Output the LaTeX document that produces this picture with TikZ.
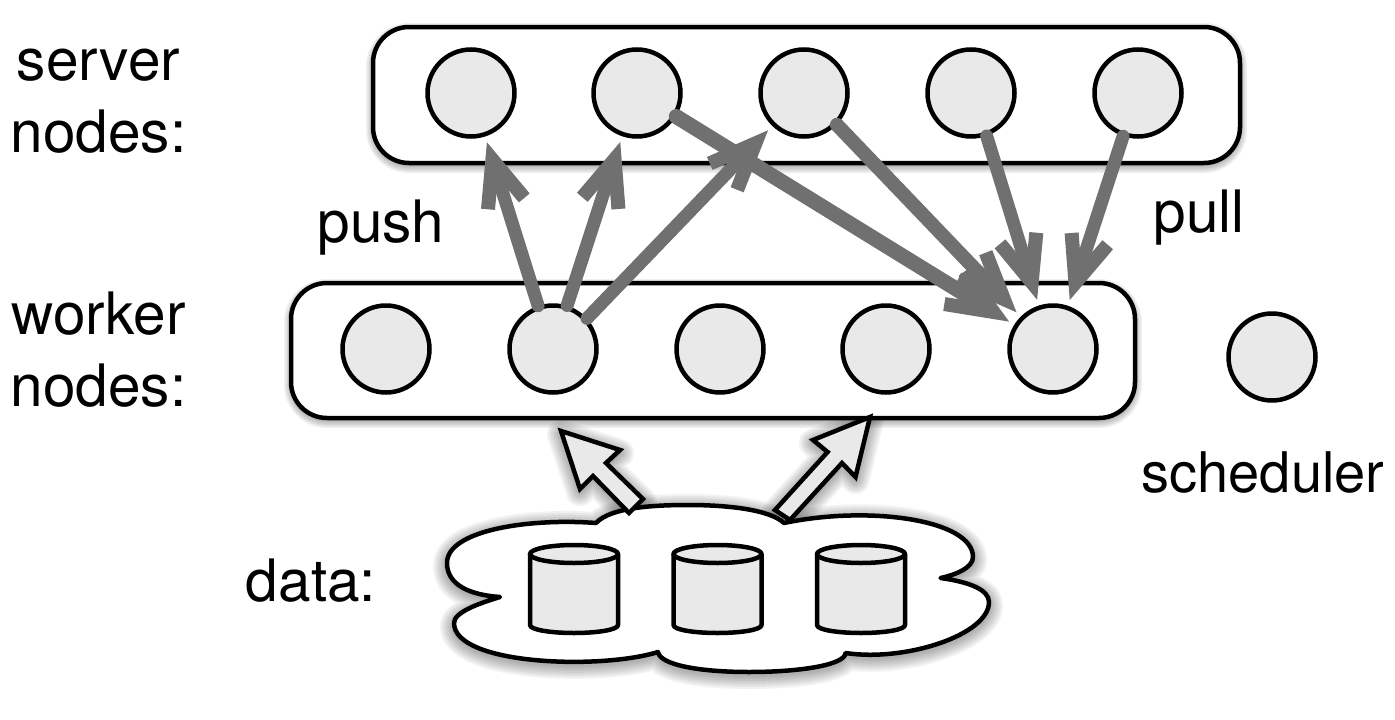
\documentclass[tikz,border=0pt]{standalone}
\usepackage{fontspec}
\setmainfont{TeX Gyre Heros}
\usetikzlibrary{arrows.meta}
\definecolor{NodeFill}{RGB}{233,233,233}
\definecolor{LinkGray}{RGB}{112,112,112}
\tikzset{
    groupbox/.style={draw=black, fill=white, line width=4.5pt, rounded corners=36pt},
    proc/.style={circle, draw=black, fill=NodeFill, line width=4.5pt, minimum size=87pt, inner sep=0pt},
    storeline/.style={draw=black, fill=NodeFill, line width=4.5pt, line join=round},
    link/.style={draw=LinkGray, line width=13pt, line cap=round, shorten >=6pt, -{Straight Barb[length=46pt, width=38pt, line width=14pt, line cap=butt]}},
    feed/.style={draw=black, fill=NodeFill, line width=4.5pt, line join=miter},
    lbl/.style={font=\fontsize{58.5}{72}\selectfont, align=center, inner sep=0pt}
}
% stacked strokes for the soft shadows
\newcommand{\softstroke}[3]{\foreach \w in {#1} {\draw[black, opacity=#2, line width=\w pt, line join=round, yshift=-3pt] #3;}}
\def\cloudpath{(596,523) .. controls (610,508) and (650,505) .. (688,505)
        .. controls (730,505) and (770,510) .. (784,523)
        .. controls (870,505) and (973,520) .. (973,557)
        .. controls (973,568) and (955,575) .. (940.5,578)
        .. controls (970,582) and (989,590) .. (989,602)
        .. controls (989,635) and (905,662) .. (845.5,653)
        .. controls (845,665) and (800,672) .. (749,672)
        .. controls (700,672) and (660,665) .. (658,652)
        .. controls (600,670) and (454,665) .. (454,623)
        .. controls (454,612) and (480,603) .. (500,597)
        .. controls (470,595) and (447,585) .. (447,563)
        .. controls (447,530) and (530,518) .. (596,523) -- cycle}
\def\feedl{(561,431) -- (620,450) -- (606,463) -- (643,499) -- (629,513) -- (593,476) -- (580,489) -- cycle}
\def\feedr{(870,417) -- (855.5,477) -- (842,463) -- (790,520) -- (775,510) -- (827.6,452) -- (813,440) -- cycle}
\tikzset{
    store/.pic={
        \draw[storeline] (-44,-35) -- (-44,36) .. controls (-44,41) and (-22,44) .. (0,44)
            .. controls (22,44) and (44,41) .. (44,36) -- (44,-35);
        \draw[storeline] (0,-35) ellipse [x radius=44, y radius=9];
    }
}
\begin{document}
\begin{tikzpicture}[x=1pt, y=-1pt]
    \useasboundingbox (0,0) rectangle (1395,720);
    % Shadows
    \softstroke{2,5,8,11,14}{0.06}{[rounded corners=36pt] (373,27) rectangle (1240,163)}
    \softstroke{2,5,8,11,14}{0.06}{[rounded corners=36pt] (291,283) rectangle (1135,418)}
    \softstroke{4,8,...,28}{0.05}{\cloudpath}
    \softstroke{4,8,...,28}{0.05}{\feedl}
    \softstroke{4,8,...,28}{0.05}{\feedr}
    % Groups
    \node[groupbox, minimum width=867pt, minimum height=136pt] (servers) at (806.5,95) {};
    \node[groupbox, minimum width=844pt, minimum height=135pt] (workers) at (713,350.5) {};
    % Cloud
    \path[draw=black, fill=white, line width=4.5pt, line join=round] \cloudpath;
    % Server and worker circles
    \foreach \k/\px in {1/471,2/637,3/804,4/971,5/1138} {\node[proc] (s\k) at (\px,93) {};}
    \foreach \k/\px in {1/386,2/553,3/720,4/886,5/1053} {\node[proc] (w\k) at (\px,349) {};}
    \node[proc] (sched) at (1272,357) {};
    % Data stores
    \foreach \px in {574,717.5,861} {\pic at (\px,589) {store};}
    % Block arrows
    \draw[feed] \feedl;
    \draw[feed] \feedr;
    % Push
    \draw[link] (w2.109) -- (s1.288);
    \draw[link] (w2.72) -- (s2.251);
    \draw[link] (w2.42) -- (s3.226);
    % Pull
    \draw[link, line width=15pt] (s2.-31) -- (w5.148);
    \draw[link, line width=14pt] (s3.-44) -- (w5.135);
    \draw[link] (s4.-70) -- (w5.108);
    \draw[link] (s5.251) -- (w5.71);
    % Labels
    \node[lbl] (lserver) at (98.5,101) {server\\nodes:};
    \node[lbl] (lworker) at (98.5,350) {worker\\nodes:};
    \node[lbl] (lpush) at (381,228) {push};
    \node[lbl] (lpull) at (1199,218) {pull};
    \node[lbl] (ldata) at (311,581) {data:};
    \node[lbl, font=\fontsize{56}{72}\selectfont] (lsched) at (1263,473) {scheduler};
\end{tikzpicture}
\end{document}
